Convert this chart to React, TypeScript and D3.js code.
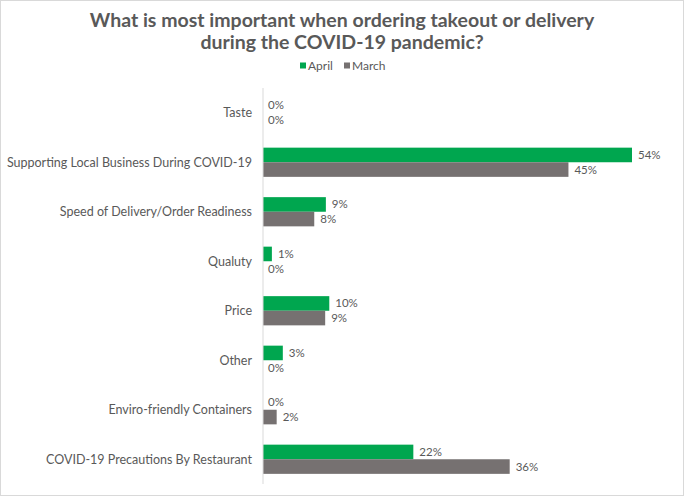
import { useEffect, useRef } from "react"
import * as d3 from "d3"

const categories = [
  "Taste",
  "Supporting Local Business During COVID-19",
  "Speed of Delivery/Order Readiness",
  "Qualuty",
  "Price",
  "Other",
  "Enviro-friendly Containers",
  "COVID-19 Precautions By Restaurant",
]
// percentages (labels show them rounded)
const april = [0, 54, 9.2, 1.3, 9.7, 2.9, 0, 22]
const march = [0, 44.7, 7.5, 0, 9.1, 0, 2, 36.1]
const seriesNames = ["April", "March"]

const colors = ["#00a64f", "#767171"]
const textColor = "#595959"
const font = "Lato, 'Open Sans', sans-serif"

export default function App() {
  const svgRef = useRef<SVGSVGElement>(null)

  useEffect(() => {
    if (!svgRef.current) return
    const svg = d3.select(svgRef.current)
    svg.selectAll("*").remove()

    const W = 684
    const H = 496
    const margin = { top: 88, right: 52, bottom: 12, left: 263 }

    svg
      .append("rect")
      .attr("x", 0.5)
      .attr("y", 0.5)
      .attr("width", W - 1)
      .attr("height", H - 1)
      .attr("fill", "white")
      .attr("stroke", "#d9d9d9")

    const y = d3
      .scaleBand()
      .domain(categories)
      .range([margin.top, H - margin.bottom])
      .paddingInner(0.41)
      .paddingOuter(0.205)

    const x = d3
      .scaleLinear()
      .domain([0, 54])
      .range([margin.left, 632])

    const sub = d3.scaleBand().domain(seriesNames).range([0, y.bandwidth()])

    // title
    const title = svg
      .append("text")
      .attr("text-anchor", "middle")
      .attr("font-family", font)
      .attr("font-weight", "bold")
      .attr("font-size", 19.5)
      .attr("fill", textColor)
    title.append("tspan").attr("x", W / 2).attr("y", 27).text("What is most important when ordering takeout or delivery")
    title.append("tspan").attr("x", W / 2).attr("y", 48.5).text("during the COVID-19 pandemic?")

    // legend
    const legend = svg.append("g").attr("transform", "translate(300, 66)")
    const legendItems = legend
      .selectAll("g")
      .data(seriesNames)
      .enter()
      .append("g")
      .attr("transform", (_d, i) => `translate(${i * 44}, 0)`)
    legendItems
      .append("rect")
      .attr("x", 0)
      .attr("y", -3.5)
      .attr("width", 6)
      .attr("height", 6)
      .attr("fill", (_d, i) => colors[i])
    legendItems
      .append("text")
      .attr("x", 8)
      .attr("y", 4)
      .attr("font-family", font)
      .attr("font-size", 12)
      .attr("fill", textColor)
      .text((d) => d)

    // category labels
    svg
      .selectAll(".cat")
      .data(categories)
      .enter()
      .append("text")
      .attr("class", "cat")
      .attr("x", margin.left - 11)
      .attr("y", (d) => (y(d) as number) + y.bandwidth() / 2)
      .attr("dy", "0.35em")
      .attr("text-anchor", "end")
      .attr("font-family", font)
      .attr("font-size", 12.5)
      .attr("fill", textColor)
      .text((d) => d)

    const series = [
      { key: "April", values: april, color: colors[0] },
      { key: "March", values: march, color: colors[1] },
    ]

    series.forEach((s) => {
      const g = svg.append("g")
      g.selectAll("rect")
        .data(s.values)
        .enter()
        .append("rect")
        .attr("x", x(0))
        .attr("y", (_d, i) => (y(categories[i]) as number) + (sub(s.key) as number))
        .attr("width", (d) => x(d) - x(0))
        .attr("height", sub.bandwidth())
        .attr("fill", s.color)

      g.selectAll("text")
        .data(s.values)
        .enter()
        .append("text")
        .attr("x", (d) => x(d) + (d > 0 ? 6 : 5))
        .attr("y", (_d, i) => (y(categories[i]) as number) + (sub(s.key) as number) + sub.bandwidth() / 2)
        .attr("dy", "0.35em")
        .attr("font-family", font)
        .attr("font-size", 11.5)
        .attr("fill", textColor)
        .text((d) => `${Math.round(d)}%`)
    })

    // axis line
    svg
      .append("line")
      .attr("x1", x(0))
      .attr("x2", x(0))
      .attr("y1", margin.top)
      .attr("y2", H - margin.bottom)
      .attr("stroke", "#d9d9d9")
      .attr("stroke-width", 1)
  }, [])

  return (
    <div style={{ position: "absolute", left: 0, top: 0 }}>
      <svg ref={svgRef} width={684} height={496} style={{ display: "block" }}></svg>
    </div>
  )
}
